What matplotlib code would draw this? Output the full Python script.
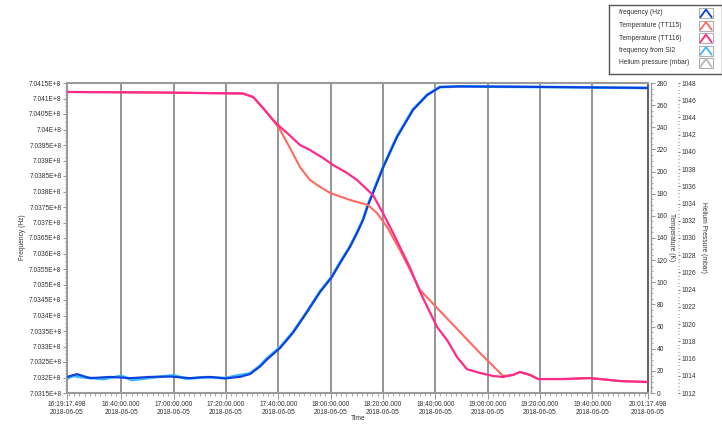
import matplotlib
matplotlib.use('Agg')
import matplotlib.pyplot as plt
import matplotlib.dates as mdates
from matplotlib.ticker import FuncFormatter, MultipleLocator, AutoMinorLocator, FixedLocator
from matplotlib.patches import Rectangle
import pandas as pd

plt.rcParams['font.family'] = ['Liberation Sans', 'DejaVu Sans']

DATE = '2018-06-05'
t_start = '16:19:17.498'
t_end = '20:01:17.498'
time_ticks = ['16:19:17.498', '16:40:00.000', '17:00:00.000', '17:20:00.000',
              '17:40:00.000', '18:00:00.000', '18:20:00.000', '18:40:00.000',
              '19:00:00.000', '19:20:00.000', '19:40:00.000', '20:01:17.498']
grid_times = time_ticks[1:-1]

freq_time = ['16:19:17', '16:23:06', '16:28:05', '16:35:45', '16:43:24', '16:51:00',
             '16:58:40', '17:06:20', '17:14:00', '17:19:42', '17:25:25', '17:29:12',
             '17:33:00', '17:35:42', '17:40:42', '17:45:36', '17:51:00', '17:56:00',
             '18:00:30', '18:03:36', '18:07:24', '18:10:06', '18:12:24', '18:14:18',
             '18:16:12', '18:20:00', '18:25:24', '18:31:30', '18:36:54', '18:41:48',
             '18:49:30', '19:23:54', '20:01:17']
freq_hz = [7.03202e8, 7.03211e8, 7.03198e8, 7.03202e8, 7.03198e8, 7.03202e8,
           7.03203e8, 7.03198e8, 7.03202e8, 7.03197e8, 7.03202e8, 7.03211e8,
           7.03235e8, 7.03258e8, 7.03295e8, 7.03344e8, 7.03411e8, 7.03476e8,
           7.03524e8, 7.03569e8, 7.03621e8, 7.03666e8, 7.03708e8, 7.03756e8,
           7.03795e8, 7.03876e8, 7.03976e8, 7.04063e8, 7.04111e8, 7.04137e8,
           7.04139e8, 7.04137e8, 7.04134e8]

si2_time = ['16:19:17', '16:21:30', '16:26:00', '16:33:00', '16:40:00', '16:44:10',
            '16:52:00', '17:00:00', '17:05:00', '17:12:00', '17:20:00', '17:24:00',
            '17:29:12', '17:33:00', '17:35:42', '17:40:42', '17:45:36', '17:51:00',
            '17:56:00', '18:00:30', '18:03:36', '18:07:24', '18:10:06', '18:12:24',
            '18:14:18', '18:16:12', '18:20:00', '18:25:24', '18:31:30', '18:36:54',
            '18:41:48', '18:49:30', '19:23:54', '20:01:17']
si2_hz = [7.03196e8, 7.03205e8, 7.03200e8, 7.03195e8, 7.03205e8, 7.03192e8,
          7.03200e8, 7.03207e8, 7.03196e8, 7.03201e8, 7.03198e8, 7.03206e8,
          7.03213e8, 7.03238e8, 7.03262e8, 7.03298e8, 7.03346e8, 7.03413e8,
          7.03478e8, 7.03526e8, 7.03571e8, 7.03623e8, 7.03668e8, 7.03710e8,
          7.03758e8, 7.03797e8, 7.03878e8, 7.03978e8, 7.04065e8, 7.04112e8,
          7.04137e8, 7.04139e8, 7.04137e8, 7.04134e8]

tt115_time = ['16:19:17', '16:54:48', '17:26:30', '17:30:24', '17:34:12', '17:38:00',
              '17:40:42', '17:44:30', '17:48:18', '17:52:06', '17:56:00', '17:59:48',
              '18:07:24', '18:14:18', '18:17:42', '18:21:36', '18:26:30', '18:34:12',
              '18:40:42', '18:57:06', '19:05:54', '19:09:42', '19:12:24', '19:16:12',
              '19:19:18', '19:28:48', '19:39:06', '19:50:36', '20:01:17']
tt115_k = [271.9, 271.4, 270.5, 267.4, 257.4, 246.6,
           237.6, 221.3, 204.1, 192.4, 186.1, 180.7,
           174.4, 169.8, 162.6, 149.9, 129.2, 93.0,
           76.8, 36.1, 15.4, 16.3, 19.0, 16.3,
           12.6, 12.6, 13.5, 10.8, 9.9]

tt116_time = ['16:19:17', '16:54:48', '17:26:30', '17:30:24', '17:34:12', '17:38:00',
              '17:40:42', '17:43:24', '17:48:18', '17:52:06', '17:57:06', '18:00:54',
              '18:06:18', '18:10:06', '18:16:12', '18:20:00', '18:23:54', '18:26:30',
              '18:30:24', '18:34:12', '18:40:42', '18:44:30', '18:48:18', '18:52:06',
              '18:57:06', '19:02:06', '19:05:54', '19:09:42', '19:12:24', '19:16:12',
              '19:19:18', '19:28:48', '19:39:06', '19:50:36', '20:01:17']
tt116_k = [271.9, 271.4, 270.5, 267.4, 257.4, 246.6,
           240.3, 234.9, 224.0, 219.5, 212.3, 206.0,
           198.7, 192.4, 178.8, 162.6, 144.5, 131.9,
           112.9, 91.2, 59.6, 47.9, 32.5, 21.5,
           18.1, 15.4, 14.5, 16.3, 19.0, 16.3,
           12.6, 12.6, 13.5, 10.8, 9.9]

helium_time = []
helium_mbar = []

legend_labels = ['frequency (Hz)', 'Temperature (TT115)', 'Temperature (TT116)',
                 'frequency from SI2', 'Helium pressure (mbar)']
colors = ['#0b3fdb', '#ff6a60', '#ff2a8a', '#3fb4ff', '#b8b8b8']


def ts(lst):
    return pd.to_datetime([f'{DATE} {t}' for t in lst])


fig = plt.figure(figsize=(7.22, 4.25), dpi=100)
W, H = 722, 425
PX = 72 / 100  # points per pixel
ax = fig.add_axes([67 / W, 32 / H, 581 / W, 310 / H])
ax_t = ax.twinx()
ax_h = ax.twinx()

TXT = '#333333'
FS = 4.8
SP = '#9a9a9a'

# grid lines
for g in ts(grid_times):
    ax.axvline(g, color='#8c8c8c', lw=1.3, zorder=0)

ax.plot(ts(si2_time), si2_hz, color=colors[3], lw=2.0, zorder=2)
ax.plot(ts(freq_time), freq_hz, color=colors[0], lw=1.5, zorder=3)
ax_t.plot(ts(tt115_time), tt115_k, color=colors[1], lw=1.5)
ax_t.plot(ts(tt116_time), tt116_k, color=colors[2], lw=1.6)
if helium_time:
    ax_h.plot(ts(helium_time), helium_mbar, color=colors[4], lw=1.2)

x0, x1 = ts([t_start, t_end])
ax.set_xlim(x0, x1)
ax.set_ylim(7.0315e8, 7.0415e8)
ax_t.set_ylim(0, 280)
ax_h.set_ylim(1012, 1048)

# x axis
tick_dt = ts(time_ticks)
ax.xaxis.set_major_locator(FixedLocator(mdates.date2num(tick_dt)))
ax.xaxis.set_minor_locator(mdates.MinuteLocator(byminute=range(0, 60, 2)))


def xfmt(v, p):
    d = mdates.num2date(v)
    return d.strftime('%H:%M:%S.') + f'{int(round(d.microsecond / 1000)) % 1000:03d}' + '\n' + d.strftime('%Y-%m-%d')


ax.xaxis.set_major_formatter(FuncFormatter(xfmt))
ax.tick_params(axis='x', which='major', length=4, color=SP, labelsize=FS, labelcolor=TXT, pad=2)
ax.tick_params(axis='x', which='minor', length=2, color=SP)

# left y axis
ax.yaxis.set_major_locator(MultipleLocator(5e4))
ax.yaxis.set_minor_locator(AutoMinorLocator(4))
ax.yaxis.set_major_formatter(FuncFormatter(lambda v, p: f'{v / 1e8:.5f}'.rstrip('0').rstrip('.') + 'E+8'))
ax.tick_params(axis='y', which='major', length=3, color=SP, labelsize=FS, labelcolor=TXT, pad=1)
ax.tick_params(axis='y', which='minor', length=1.5, color=SP)

# temperature axis
ax_t.spines['right'].set_position(('outward', 3 * PX))
ax_t.yaxis.set_major_locator(MultipleLocator(20))
ax_t.yaxis.set_minor_locator(MultipleLocator(5))
ax_t.tick_params(axis='y', which='major', length=3, color=SP, labelsize=FS, labelcolor=TXT, pad=1)
ax_t.tick_params(axis='y', which='minor', length=1.5, color=SP)

# helium axis
ax_h.spines['right'].set_position(('outward', 30 * PX))
ax_h.spines['right'].set_visible(False)
ax_h.yaxis.set_major_locator(MultipleLocator(2))
ax_h.yaxis.set_minor_locator(AutoMinorLocator(5))
ax_h.tick_params(axis='y', which='major', length=1.5, color='#777777', labelsize=FS, labelcolor=TXT, pad=0.8)
ax_h.tick_params(axis='y', which='minor', length=1, width=0.8, color='#888888')

for a in (ax, ax_t, ax_h):
    for s in ('top', 'left', 'bottom'):
        a.spines[s].set_color(SP)
        a.spines[s].set_linewidth(1.5)
for s in ('top', 'left', 'bottom'):
    ax_t.spines[s].set_visible(False)
    ax_h.spines[s].set_visible(False)
ax.spines['right'].set_color('#666666')
ax.spines['right'].set_linewidth(1.5)
ax_t.spines['right'].set_color(SP)
ax_t.spines['right'].set_linewidth(1.0)

# axis labels
fig.text(23 / W, 1 - 237 / H, 'Frequency (Hz)', rotation=90, ha='center', va='center', fontsize=FS, color=TXT)
fig.text(358 / W, 1 - 419 / H, 'Time', ha='center', va='center', fontsize=FS, color=TXT)
fig.text(672 / W, 1 - 237 / H, 'Temperature (K)', rotation=270, ha='center', va='center', fontsize=FS, color=TXT)
fig.text(703 / W, 1 - 237 / H, 'Helium Pressure (mbar)', rotation=270, ha='center', va='center', fontsize=FS, color=TXT)

# legend
lg = fig.add_axes([609 / W, 1 - 74 / H, 113 / W, 69 / H])
lg.set_xlim(0, 113)
lg.set_ylim(69, 0)
lg.set_xticks([])
lg.set_yticks([])
for s in lg.spines.values():
    s.set_color('#555555')
    s.set_linewidth(1.0)
rows = [8, 20.5, 33, 45.5, 57.5]
for lab, col, y in zip(legend_labels, colors, rows):
    lg.text(10, y, lab, fontsize=FS, color=TXT, va='center', ha='left')
    lg.add_patch(Rectangle((90, y - 5), 14, 10, fill=False, ec='#b0b0b0', lw=0.8))
    lg.plot([91.5, 97, 102.5], [y + 4, y - 3.5, y + 4], color=col, lw=1.3)

fig.savefig('out.png', dpi=100)
